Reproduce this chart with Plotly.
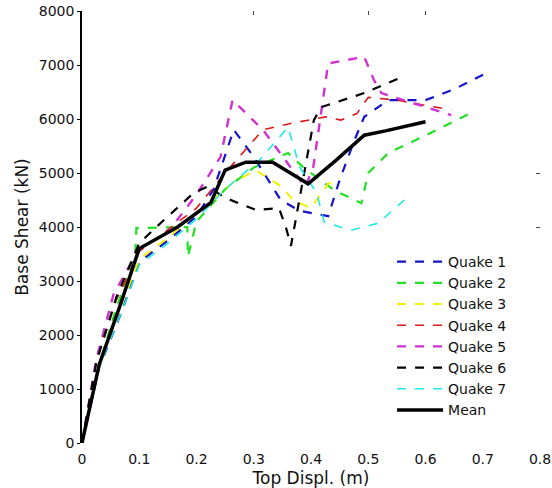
import plotly.graph_objects as go

# Quake 1 (blue)
q1_x = [0, 0.03, 0.07, 0.1, 0.15, 0.2, 0.23, 0.265, 0.3, 0.347, 0.38, 0.43, 0.45, 0.476, 0.493, 0.535, 0.6, 0.65, 0.71]
q1_y = [0, 1400, 2450, 3350, 3750, 4200, 4700, 5800, 5300, 4500, 4300, 4200, 4870, 5610, 6040, 6350, 6350, 6550, 6870]
# Quake 2 (green)
q2_x = [0, 0.03, 0.06, 0.08, 0.093, 0.095, 0.184, 0.185, 0.2, 0.25, 0.3, 0.36, 0.386, 0.44, 0.488, 0.5, 0.535, 0.593, 0.645, 0.677]
q2_y = [0, 1450, 2500, 3100, 3480, 3980, 4000, 3450, 4100, 4700, 5100, 5370, 5110, 4685, 4440, 5000, 5370, 5660, 5940, 6100]
# Quake 3 (yellow)
q3_x = [0, 0.03, 0.065, 0.1, 0.15, 0.2, 0.263, 0.303, 0.35, 0.368, 0.4, 0.43, 0.45]
q3_y = [0, 1400, 2450, 3400, 3800, 4250, 4815, 5055, 4740, 4500, 4350, 4800, 4900]
# Quake 4 (red)
q4_x = [0, 0.025, 0.06, 0.1, 0.15, 0.2, 0.25, 0.286, 0.316, 0.368, 0.426, 0.452, 0.48, 0.5, 0.55, 0.6, 0.645]
q4_y = [0, 1500, 2650, 3550, 3950, 4350, 5000, 5425, 5800, 5925, 6040, 5980, 6100, 6400, 6350, 6250, 6170]
# Quake 5 (magenta)
q5_x = [0, 0.025, 0.055, 0.1, 0.149, 0.2, 0.242, 0.263, 0.316, 0.39, 0.404, 0.43, 0.493, 0.51, 0.523, 0.575, 0.645]
q5_y = [0, 1550, 2750, 3600, 3890, 4600, 5300, 6350, 5800, 4740, 5110, 7030, 7150, 6720, 6480, 6300, 6070]
# Quake 6 (black dashed)
q6_x = [0, 0.025, 0.06, 0.1, 0.137, 0.195, 0.22, 0.25, 0.304, 0.344, 0.356, 0.365, 0.405, 0.418, 0.493, 0.56]
q6_y = [0, 1500, 2700, 3700, 4070, 4630, 4750, 4540, 4315, 4350, 4000, 3650, 5980, 6220, 6480, 6780]
# Quake 7 (cyan)
q7_x = [0, 0.03, 0.07, 0.1, 0.15, 0.2, 0.25, 0.31, 0.36, 0.38, 0.41, 0.423, 0.47, 0.517, 0.563]
q7_y = [0, 1400, 2450, 3300, 3700, 4150, 4700, 5240, 5850, 5110, 4630, 4090, 3940, 4070, 4500]
# Mean
mean_x = [0, 0.03, 0.065, 0.1, 0.167, 0.225, 0.25, 0.286, 0.333, 0.395, 0.444, 0.493, 0.53, 0.6]
mean_y = [0, 1450, 2500, 3600, 4000, 4450, 5055, 5200, 5200, 4800, 5240, 5700, 5780, 5950]

x_ticks = [0, 0.1, 0.2, 0.3, 0.4, 0.5, 0.6, 0.7, 0.8]
x_labels = ["0", "0.1", "0.2", "0.3", "0.4", "0.5", "0.6", "0.7", "0.8"]
y_ticks = [0, 1000, 2000, 3000, 4000, 5000, 6000, 7000, 8000]
y_labels = ["0", "1000", "2000", "3000", "4000", "5000", "6000", "7000", "8000"]

series = [
    ("Quake 1", q1_x, q1_y, "#1414c8", 2.2, "dash"),
    ("Quake 2", q2_x, q2_y, "#22e022", 2.2, "dash"),
    ("Quake 3", q3_x, q3_y, "#f4f000", 2.0, "dash"),
    ("Quake 4", q4_x, q4_y, "#e01818", 1.6, "dash"),
    ("Quake 5", q5_x, q5_y, "#d030d0", 2.4, "dash"),
    ("Quake 6", q6_x, q6_y, "#000000", 2.2, "dash"),
    ("Quake 7", q7_x, q7_y, "#20e8e8", 1.6, "dash"),
]

fig = go.Figure()
for name, xs, ys, col, w, d in series:
    fig.add_trace(go.Scatter(x=xs, y=ys, mode="lines", name=name,
                             line=dict(color=col, width=w, dash=d)))
fig.add_trace(go.Scatter(x=mean_x, y=mean_y, mode="lines", name="Mean",
                         line=dict(color="#000000", width=3.5)))

# faint remnant ticks of the box (top and right)
fig.add_trace(go.Scatter(x=[0.3], y=[4000], xaxis="x2", yaxis="y2",
                         mode="markers", marker=dict(opacity=0), showlegend=False,
                         hoverinfo="skip"))

font = "DejaVu Sans, Arial, sans-serif"
fig.update_layout(
    width=552, height=488,
    margin=dict(l=82, r=12, t=11, b=45, autoexpand=False),
    paper_bgcolor="white", plot_bgcolor="white",
    font=dict(family=font, size=14, color="#111111"),
    showlegend=True,
    legend=dict(x=0.677, y=0.456, xanchor="left", yanchor="top",
                bgcolor="rgba(0,0,0,0)", borderwidth=0, itemwidth=46,
                font=dict(family=font, size=14, color="#111111"),
                tracegroupgap=0),
    xaxis=dict(range=[0, 0.8], tickvals=x_ticks, ticktext=x_labels,
               showgrid=False, zeroline=False, showline=False,
               ticks="outside", ticklen=3, tickcolor="rgba(0,0,0,0)",
               tickfont=dict(size=14), automargin=False, ticklabeloverflow="allow",
               title=dict(text="Top Displ. (m)", font=dict(size=17), standoff=8)),
    yaxis=dict(range=[0, 8000], tickvals=y_ticks, ticktext=y_labels,
               showgrid=False, zeroline=False, showline=True,
               linecolor="black", linewidth=1.5,
               ticks="outside", ticklen=3, tickcolor="black",
               tickfont=dict(size=14), automargin=False, ticklabeloverflow="allow",
               title=dict(text="Base Shear (kN)", font=dict(size=17), standoff=6)),
    xaxis2=dict(range=[0, 0.8], overlaying="x", side="top", anchor="y",
                tickvals=[0.3, 0.5, 0.6], ticks="inside", ticklen=4,
                tickcolor="#444", showticklabels=False, showline=False,
                showgrid=False, zeroline=False, automargin=False),
    yaxis2=dict(range=[0, 8000], overlaying="y", side="right", anchor="x",
                tickvals=[4000, 5000], ticks="inside", ticklen=4,
                tickcolor="#444", showticklabels=False, showline=False,
                showgrid=False, zeroline=False, automargin=False),
)

fig.write_html("out.html", config={"displayModeBar": False},
               post_script="document.body.style.margin='0';document.body.style.overflow='hidden';")
